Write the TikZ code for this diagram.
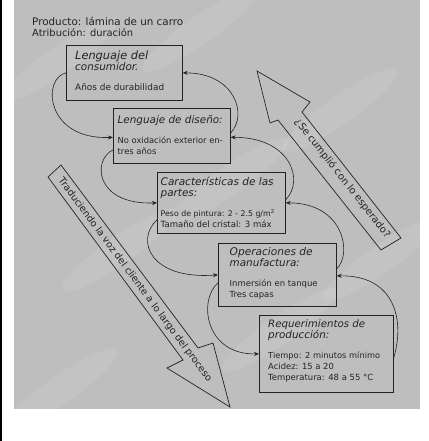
\documentclass[tikz,border=0pt]{standalone}
\usepackage{fontspec}
\usepackage{graphicx}
\setmainfont{DejaVu Sans}
\usetikzlibrary{arrows.meta}
\definecolor{bg}{RGB}{190,190,190}
\definecolor{ink}{RGB}{35,35,35}
\newcommand\boxtitle[2]{\resizebox{#1pt}{!}{\fontsize{10.4}{11.5}\selectfont\itshape #2}}
\newcommand\boxtitlen[1]{{\fontsize{10.4}{11.5}\selectfont\itshape #1}}
\newcommand\boxline[2]{\resizebox{#1pt}{!}{#2}}
\begin{document}
\begin{tikzpicture}[x=1pt,y=-1pt,
  box/.style={draw=ink, line width=0.7pt, inner sep=0pt, anchor=north west},
  txt/.style={anchor=north west, align=left, inner sep=0pt, text=ink, font=\fontsize{8.4}{11}\selectfont},
  con/.style={draw=ink, line width=0.6pt, -{Stealth[length=5pt,width=4pt]}},
  bigarrow/.style={draw=ink, line width=0.7pt, line join=miter},
  bigtxt/.style={inner sep=0pt, text=ink, font=\fontsize{8.6}{9}\selectfont}]
\useasboundingbox (0,0) rectangle (428,441);
\fill[white] (0,0) rectangle (428,441);
\fill[black] (0,0) rectangle (2,441);
\fill[bg] (14,0) rectangle (420,409);
\begin{scope}
\clip (14,0) rectangle (420,409);
\foreach \cx/\cy in {60/60, 200/30, 340/110, 120/250, 280/330, 380/260, 60/390, 230/180}
  \fill[white, opacity=0.08, rotate around={35:(\cx,\cy)}] (\cx,\cy) ellipse (70 and 14);
\end{scope}

% header
\node[txt, font=\fontsize{10}{11}\selectfont] (hdr) at (32,17) {\resizebox{151pt}{!}{Producto: lámina de un carro}\\\resizebox{101pt}{!}{Atribución: duración}};

% boxes
\node[box, minimum width=116pt, minimum height=55pt] (b1) at (66,45) {};
\node[box, minimum width=117pt, minimum height=55pt] (b2) at (113,108) {};
\node[box, minimum width=128pt, minimum height=61pt] (b3) at (157,172) {};
\node[box, minimum width=118pt, minimum height=63pt] (b4) at (218,243) {};
\node[box, minimum width=134pt, minimum height=77pt] (b5) at (259,315) {};

\node[txt] (t1) at (75,51) {\boxtitle{73}{Lenguaje del}\\\boxtitlen{consumidor.}\\[9pt]\boxline{89}{Años de durabilidad}};
\node[txt] (t2) at (117.5,115) {\boxtitle{105}{Lenguaje de diseño:}\\[9pt]\boxline{105}{No oxidación exterior en-}\\tres años};
\node[txt] (t3) at (160.5,177) {\boxtitle{113}{Características de las}\\\boxtitlen{partes:}\\[9pt]\boxline{114}{Peso de pintura: 2 - 2.5 g/m\textsuperscript{2}}\\\boxline{111}{Tamaño del cristal: 3 máx}};
\node[txt] (t4) at (229.5,247) {\boxtitle{83}{Operaciones de}\\\boxtitlen{manufactura:}\\[9pt]\boxline{88}{Inmersión en tanque}\\Tres capas};
\node[txt] (t5) at (268,319.5) {\boxtitle{97}{Requerimientos de}\\\boxtitlen{producción:}\\[9pt]\boxline{112}{Tiempo: 2 minutos mínimo}\\Acidez: 15 a 20\\\boxline{105}{Temperatura: 48 a 55 °C}};

% left connectors (downward chain)
\draw[con] (b1.west) .. controls (42,78) and (45,140) .. ([yshift=-1.5pt]b2.west);
\draw[con] ([yshift=-14pt]b2.west) .. controls (92,160) and (95,205) .. (b3.west);
\draw[con] ([yshift=-17pt]b3.west) .. controls (135,240) and (150,280) .. (b4.west);
\draw[con] ([yshift=-8pt]b4.west) .. controls (198,300) and (205,355) .. (b5.west);

% right connectors (upward chain)
\draw[con] ([yshift=3pt]b2.east) .. controls (248,115) and (235,73) .. (b1.east);
\draw[con] ([yshift=3pt]b3.east) .. controls (305,180) and (290,137) .. ([yshift=-1.5pt]b2.east);
\draw[con] ([yshift=6pt]b4.east) .. controls (352,255) and (345,203) .. (b3.east);
\draw[con] ([yshift=-4pt]b5.east) .. controls (405,320) and (395,275) .. ([yshift=-1pt]b4.east);

% big arrows
\draw[bigarrow] (61,165) -- (198,348) -- (213,343) -- (230,407) -- (167,368) -- (183,360) -- (48,177) -- cycle;
\node[bigtxt, rotate=-53.5] (la) at (135,280) {\resizebox{251pt}{!}{Traduciendo la voz del cliente a lo largo del proceso}};

\draw[bigarrow] (257,71) -- (310,102) -- (302,112) -- (401,238) -- (381,250) -- (278,120) -- (270,123) -- cycle;
\node[bigtxt, rotate=-52] (ra) at (342.5,178.5) {\resizebox{148pt}{!}{¿Se cumplió con lo esperado?}};
\end{tikzpicture}
\end{document}
